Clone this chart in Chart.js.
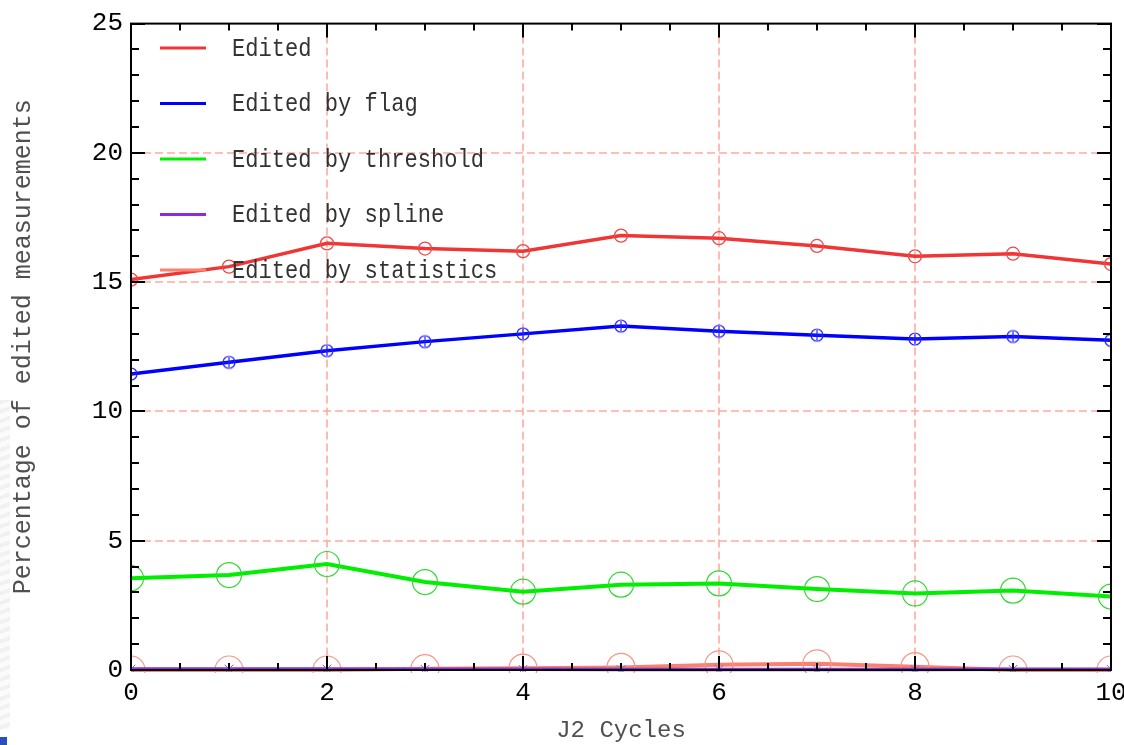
<!DOCTYPE html>
<html><head><meta charset="utf-8">
<script src="https://cdn.jsdelivr.net/npm/chart.js@4.4.1/dist/chart.umd.min.js"></script>
<style>
html,body{margin:0;padding:0;background:#fff;overflow:hidden;}
#wrap{position:relative;width:1124px;height:745px;overflow:hidden;}
#bg{position:absolute;left:0;top:400px;width:10px;height:330px;background:repeating-linear-gradient(160deg,#f1f1f1 0 4px,#fbfbfb 4px 9px);}
#mark{position:absolute;left:0;top:737px;width:7px;height:8px;background:#2a4fc0;}
#c{position:absolute;left:0;top:0;}
</style></head><body>
<div id="wrap"><div id="bg"></div><div id="mark"></div><canvas id="c" width="1150" height="745"></canvas></div>
<script>
// ---- data ----
const cycles = [0,1,2,3,4,5,6,7,8,9,10];
const edited = [15.1,15.6,16.5,16.3,16.2,16.8,16.7,16.4,16.0,16.1,15.7];
const editedByFlag = [11.45,11.9,12.35,12.7,13.0,13.3,13.1,12.95,12.8,12.9,12.75];
const editedByThreshold = [3.55,3.67,4.1,3.4,3.03,3.3,3.35,3.13,2.96,3.07,2.84];
const editedBySpline = [0.04,0.04,0.04,0.03,0.03,0.02,0.02,0.02,0.02,0.03,0.03];
const editedByStatistics = [0,0,0,0.05,0.07,0.1,0.2,0.24,0.13,0,0];
const seriesLabels = ['Edited','Edited by flag','Edited by threshold','Edited by spline','Edited by statistics'];
const xTickStep = 2, yTickStep = 5;
const xMinorStep = 0.5, yMinorStep = 1;
const xTitle = 'J2 Cycles';
const yTitle = 'Percentage of edited measurements';

const pts = arr => cycles.map((c,i)=>({x:c,y:arr[i]}));

// circle-with-plus marker for "by flag"
function plusCircle(color){
  const cv=document.createElement('canvas'); cv.width=16; cv.height=16;
  const g=cv.getContext('2d'); g.strokeStyle=color; g.lineWidth=1.2;
  g.beginPath(); g.arc(8,8,6,0,Math.PI*2); g.stroke();
  g.beginPath(); g.moveTo(8,3); g.lineTo(8,13); g.moveTo(3,8); g.lineTo(13,8); g.stroke();
  return cv;
}

const MONO = "'Liberation Mono', 'DejaVu Sans Mono', monospace";
const GRID = '#ffaa9f';

const datasets = [
  {label:seriesLabels[0], data:pts(edited), borderColor:'#f03535', borderWidth:3.5, legendColor:'#f03535',
   pointStyle:'circle', pointRadius:6.5, pointBorderWidth:1.3, pointBorderColor:'#f04848', pointBackgroundColor:'rgba(0,0,0,0)', clip:0},
  {label:seriesLabels[1], data:pts(editedByFlag), borderColor:'#0000ff', borderWidth:3.5, legendColor:'#0000ff',
   pointStyle:plusCircle('#2020ff'), pointRadius:8, clip:0},
  {label:seriesLabels[2], data:pts(editedByThreshold), borderColor:'#00ee00', borderWidth:4, legendColor:'#00ee00',
   pointStyle:'circle', pointRadius:12.5, pointBorderWidth:1.2, pointBorderColor:'#30d830', pointBackgroundColor:'rgba(0,0,0,0)', clip:0},
  {label:seriesLabels[3], data:pts(editedBySpline), borderColor:'#8a2be2', borderWidth:3.5, legendColor:'#8a2be2',
   pointStyle:'star', pointRadius:6, pointBorderWidth:1, pointBorderColor:'#9a4ef0', pointBackgroundColor:'rgba(0,0,0,0)', clip:{left:0,top:0,right:0,bottom:2}},
  {label:seriesLabels[4], data:pts(editedByStatistics), borderColor:'#fa8070', borderWidth:4, legendColor:'#fa8070',
   pointStyle:'circle', pointRadius:14, pointBorderWidth:1.2, pointBorderColor:'#f89585', pointBackgroundColor:'rgba(0,0,0,0)', clip:{left:0,top:0,right:0,bottom:3}}
];

const gridPlugin = {
  id:'dashGrid',
  beforeDatasetsDraw(chart){
    const {ctx, chartArea:a, scales:{x,y}} = chart;
    ctx.save();
    ctx.strokeStyle=GRID; ctx.lineWidth=1.6; ctx.setLineDash([8,4]);
    ctx.beginPath();
    x.ticks.forEach(t=>{
      if(t.value<=x.min||t.value>=x.max) return;
      const px=Math.round(x.getPixelForValue(t.value));
      ctx.moveTo(px,a.top); ctx.lineTo(px,a.bottom);
    });
    y.ticks.forEach(t=>{
      if(t.value<=y.min||t.value>=y.max) return;
      const py=Math.round(y.getPixelForValue(t.value));
      ctx.moveTo(a.left,py); ctx.lineTo(a.right,py);
    });
    ctx.stroke();
    ctx.restore();
  }
};

const framePlugin = {
  id:'frame',
  afterDatasetsDraw(chart){
    const {ctx, chartArea:a, scales:{x,y}} = chart;
    ctx.save();
    ctx.strokeStyle='#000'; ctx.lineWidth=2;
    ctx.strokeRect(a.left,a.top,a.right-a.left,a.bottom-a.top);
    ctx.beginPath();
    for(let v=x.min; v<=x.max+1e-6; v+=xMinorStep){
      const px=Math.round(x.getPixelForValue(v));
      const major=Math.abs(v/xTickStep-Math.round(v/xTickStep))<1e-6;
      const L=major?14:7;
      ctx.moveTo(px,a.bottom); ctx.lineTo(px,a.bottom-L);
      ctx.moveTo(px,a.top); ctx.lineTo(px,a.top+L);
    }
    for(let v=y.min; v<=y.max+1e-6; v+=yMinorStep){
      const py=Math.round(y.getPixelForValue(v));
      const major=Math.abs(v/yTickStep-Math.round(v/yTickStep))<1e-6;
      const L=major?14:8;
      ctx.moveTo(a.left,py); ctx.lineTo(a.left+L,py);
      ctx.moveTo(a.right,py); ctx.lineTo(a.right-L,py);
    }
    ctx.stroke();
    ctx.restore();
  }
};

const legendPlugin = {
  id:'legendIn',
  afterDatasetsDraw(chart){
    const ctx=chart.ctx;
    ctx.save();
    chart.data.datasets.forEach((ds,i)=>{
      const yy=48+i*55.5;
      ctx.strokeStyle=ds.legendColor; ctx.lineWidth=3;
      ctx.beginPath(); ctx.moveTo(160,yy); ctx.lineTo(206,yy); ctx.stroke();
      ctx.save();
      ctx.translate(232,yy);
      ctx.scale(0.85,1);
      ctx.font="26px "+MONO;
      ctx.fillStyle='#333';
      ctx.textBaseline='middle';
      ctx.fillText(ds.label,0,1);
      ctx.restore();
    });
    ctx.restore();
  }
};

new Chart(document.getElementById('c'), {
  type:'line',
  data:{datasets},
  options:{
    responsive:false, animation:false, devicePixelRatio:1,
    layout:{padding:{top:18,right:39,left:0,bottom:0}},
    plugins:{legend:{display:false}, tooltip:{enabled:false}},
    elements:{line:{tension:0}},
    scales:{
      x:{type:'linear', min:0, max:10,
        ticks:{stepSize:xTickStep, padding:8, color:'#000', font:{family:MONO,size:26}, maxRotation:0},
        grid:{display:false, drawTicks:false},
        border:{display:false},
        title:{display:true, text:xTitle, color:'#505050', font:{family:MONO,size:24}, padding:{top:0,bottom:0}},
        afterFit(s){ s.height=75; }
      },
      y:{type:'linear', min:0, max:25,
        ticks:{stepSize:yTickStep, padding:8, color:'#000', font:{family:MONO,size:26}},
        grid:{display:false, drawTicks:false},
        border:{display:false},
        title:{display:true, text:yTitle, color:'#505050', font:{family:MONO,size:25}, padding:{top:8,bottom:0}},
        afterFit(s){ s.width=131; }
      }
    }
  },
  plugins:[gridPlugin, framePlugin, legendPlugin]
});
</script>
</body></html>
